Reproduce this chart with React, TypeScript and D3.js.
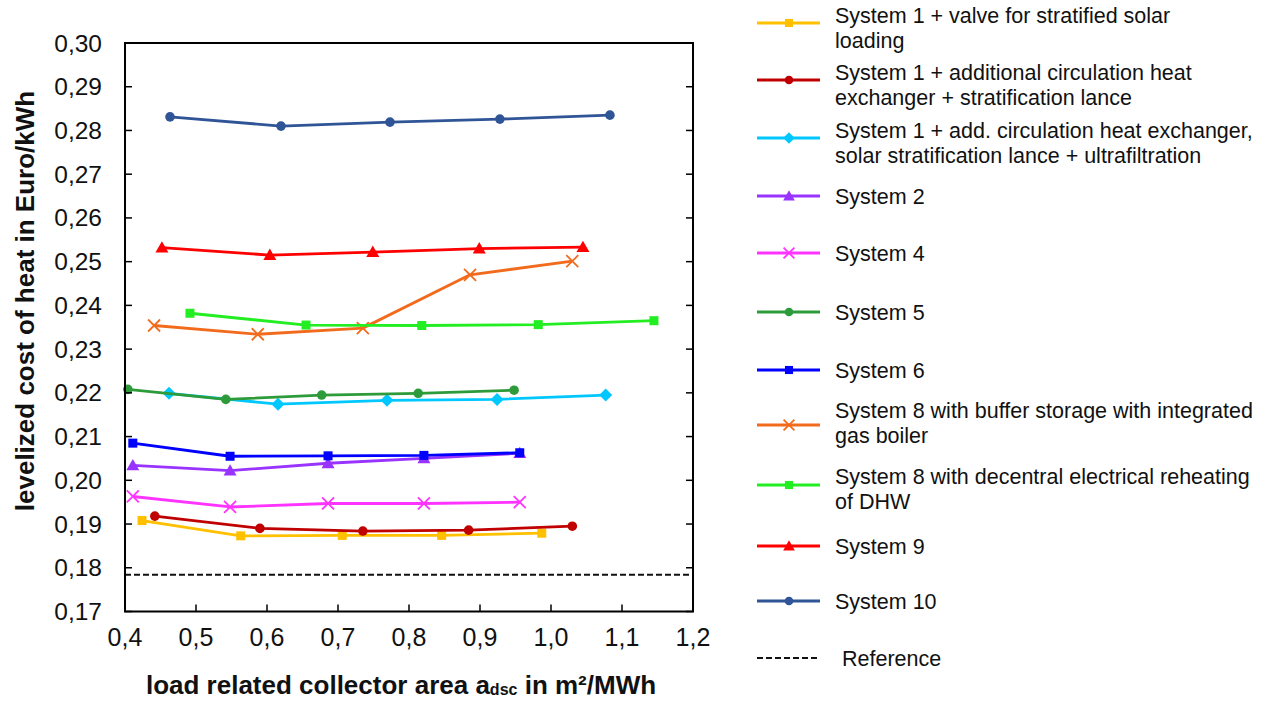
import React from "react";
import * as d3 from "d3";

const xTicks = [0.4, 0.5, 0.6, 0.7, 0.8, 0.9, 1.0, 1.1, 1.2];
const yTicks = [0.17, 0.18, 0.19, 0.2, 0.21, 0.22, 0.23, 0.24, 0.25, 0.26, 0.27, 0.28, 0.29, 0.3];

const s1ValveX = [0.424, 0.563, 0.706, 0.846, 0.987];
const s1ValveY = [0.1908, 0.1873, 0.1874, 0.1874, 0.1879];
const s1LanceX = [0.442, 0.59, 0.735, 0.884, 1.03];
const s1LanceY = [0.1918, 0.189, 0.1884, 0.1886, 0.1895];
const s1UfX = [0.462, 0.6155, 0.769, 0.924, 1.077];
const s1UfY = [0.2199, 0.2174, 0.2183, 0.2185, 0.2195];
const s2X = [0.411, 0.548, 0.686, 0.821, 0.956];
const s2Y = [0.2034, 0.2022, 0.2039, 0.205, 0.2062];
const s4X = [0.411, 0.548, 0.686, 0.821, 0.956];
const s4Y = [0.1963, 0.1939, 0.1947, 0.1947, 0.195];
const s5X = [0.404, 0.542, 0.677, 0.813, 0.948];
const s5Y = [0.2208, 0.2185, 0.2195, 0.2199, 0.2206];
const s6X = [0.411, 0.548, 0.686, 0.821, 0.956];
const s6Y = [0.2085, 0.2055, 0.2056, 0.2057, 0.2063];
const s8BufX = [0.441, 0.587, 0.735, 0.886, 1.03];
const s8BufY = [0.2354, 0.2334, 0.2348, 0.247, 0.2501];
const s8DecX = [0.4915, 0.655, 0.818, 0.982, 1.145];
const s8DecY = [0.2382, 0.2355, 0.2354, 0.2356, 0.2365];
const s9X = [0.452, 0.604, 0.749, 0.899, 1.045];
const s9Y = [0.2532, 0.2515, 0.2522, 0.253, 0.2533];
const s10X = [0.4634, 0.6197, 0.7732, 0.928, 1.083];
const s10Y = [0.2831, 0.281, 0.2819, 0.2826, 0.2835];
const referenceValue = 0.1784;

type Marker = "square" | "circle" | "diamond" | "triangle" | "cross";

const series: { name: string[]; color: string; marker: Marker; xs: number[]; ys: number[] }[] = [
  { name: ["System 1 + valve for stratified solar", "loading"], color: "#FFC000", marker: "square", xs: s1ValveX, ys: s1ValveY },
  { name: ["System 1 + additional circulation heat", "exchanger + stratification lance"], color: "#C00000", marker: "circle", xs: s1LanceX, ys: s1LanceY },
  { name: ["System 1 + add. circulation heat exchanger,", "solar stratification lance + ultrafiltration"], color: "#00C8FF", marker: "diamond", xs: s1UfX, ys: s1UfY },
  { name: ["System 2"], color: "#9933FF", marker: "triangle", xs: s2X, ys: s2Y },
  { name: ["System 4"], color: "#FF33FF", marker: "cross", xs: s4X, ys: s4Y },
  { name: ["System 5"], color: "#2E9B3A", marker: "circle", xs: s5X, ys: s5Y },
  { name: ["System 6"], color: "#0000FF", marker: "square", xs: s6X, ys: s6Y },
  { name: ["System 8 with buffer storage with integrated", "gas boiler"], color: "#F26B1D", marker: "cross", xs: s8BufX, ys: s8BufY },
  { name: ["System 8 with decentral electrical reheating", "of DHW"], color: "#22EE22", marker: "square", xs: s8DecX, ys: s8DecY },
  { name: ["System 9"], color: "#FF0000", marker: "triangle", xs: s9X, ys: s9Y },
  { name: ["System 10"], color: "#2F5597", marker: "circle", xs: s10X, ys: s10Y },
];

// legend row line y positions and first-line text baselines
const legendY = [23, 80, 138, 196, 253, 312, 370, 425, 485, 546, 601];
const legendTextY = [23, 80, 138, 204, 261, 320, 378, 418, 484, 554, 609];
const legendRefY = 658;

function MarkerShape({ type, x, y, color, size = 1 }: { type: Marker; x: number; y: number; color: string; size?: number }) {
  if (type === "square") {
    const s = 9 * size;
    return <rect x={x - s / 2} y={y - s / 2} width={s} height={s} fill={color} />;
  }
  if (type === "circle") {
    return <circle cx={x} cy={y} r={4.8 * size} fill={color} />;
  }
  if (type === "diamond") {
    const s = 6.5 * size;
    return <path d={`M${x},${y - s}L${x + s},${y}L${x},${y + s}L${x - s},${y}Z`} fill={color} />;
  }
  if (type === "triangle") {
    const s = 6.5 * size;
    return <path d={`M${x},${y - s}L${x + s},${y + s * 0.75}L${x - s},${y + s * 0.75}Z`} fill={color} />;
  }
  const s = 6 * size;
  return (
    <path
      d={`M${x - s},${y - s}L${x + s},${y + s}M${x - s},${y + s}L${x + s},${y - s}`}
      stroke={color}
      strokeWidth={1.8}
      fill="none"
    />
  );
}

export default function App() {
  const W = 1267;
  const H = 701;
  const x = d3.scaleLinear().domain([0.4, 1.2]).range([125, 693]);
  const y = d3.scaleLinear().domain([0.17, 0.3]).range([611.5, 43]);
  const line = d3
    .line<[number, number]>()
    .x((d) => x(d[0]))
    .y((d) => y(d[1]));
  const font = "Liberation Sans, Arial, sans-serif";

  return (
    <svg width={W} height={H} style={{ position: "absolute", left: 0, top: 0, background: "#fff" }} fontFamily={font}>
      <rect x={0} y={0} width={W} height={H} fill="#fff" />
      {/* reference line */}
      <line x1={x(0.4)} x2={x(1.2)} y1={y(referenceValue)} y2={y(referenceValue)} stroke="#111" strokeWidth={2.2} strokeDasharray="6,3" />
      {/* series */}
      {series.map((s, i) => {
        const pts: [number, number][] = s.xs.map((v, j) => [v, s.ys[j]]);
        return (
          <g key={i}>
            <path d={line(pts) || ""} fill="none" stroke={s.color} strokeWidth={2.8} strokeLinejoin="round" />
            {pts.map((p, j) => (
              <MarkerShape key={j} type={s.marker} x={x(p[0])} y={y(p[1])} color={s.color} />
            ))}
          </g>
        );
      })}
      {/* frame */}
      <rect x={x(0.4)} y={y(0.3)} width={x(1.2) - x(0.4)} height={y(0.17) - y(0.3)} fill="none" stroke="#000" strokeWidth={2} />
      {/* y ticks */}
      {yTicks.map((t, i) => (
        <g key={"y" + i}>
          <line x1={x(0.4)} x2={x(0.4) + 7} y1={y(t)} y2={y(t)} stroke="#000" strokeWidth={1.5} />
          <line x1={x(1.2)} x2={x(1.2) - 7} y1={y(t)} y2={y(t)} stroke="#000" strokeWidth={1.5} />
          <text x={102} y={y(t) + 8.5} textAnchor="end" fontSize={24.5} fill="#111">
            {d3.format(".2f")(t).replace(".", ",")}
          </text>
        </g>
      ))}
      {/* x ticks */}
      {xTicks.map((t, i) => (
        <g key={"x" + i}>
          <line x1={x(t)} x2={x(t)} y1={y(0.17)} y2={y(0.17) - 7} stroke="#000" strokeWidth={1.5} />
          <text x={x(t)} y={646} textAnchor="middle" fontSize={25} fill="#111">
            {d3.format(".1f")(t).replace(".", ",")}
          </text>
        </g>
      ))}
      {/* axis titles */}
      <text x={401} y={694} textAnchor="middle" fontSize={26} fontWeight="bold" fill="#111">
        load related collector area a<tspan fontSize={16} dy={1}>dsc</tspan>
        <tspan dy={-1}> in m²/MWh</tspan>
      </text>
      <text transform="translate(34,301) rotate(-90)" textAnchor="middle" fontSize={26} fontWeight="bold" fill="#111">
        levelized cost of heat in Euro/kWh
      </text>
      {/* legend */}
      {series.map((s, i) => {
        const ly = legendY[i];
        return (
          <g key={"l" + i}>
            <line x1={757} x2={820} y1={ly} y2={ly} stroke={s.color} strokeWidth={2.8} />
            <MarkerShape type={s.marker} x={789} y={ly} color={s.color} size={0.9} />
            {s.name.map((n, k) => (
              <text key={k} x={835} y={legendTextY[i] + k * 25} fontSize={21.5} fill="#111">
                {n}
              </text>
            ))}
          </g>
        );
      })}
      <line x1={757} x2={820} y1={legendRefY} y2={legendRefY} stroke="#111" strokeWidth={2.2} strokeDasharray="6,3" />
      <text x={842} y={legendRefY + 8} fontSize={21.5} fill="#111">
        Reference
      </text>
    </svg>
  );
}
